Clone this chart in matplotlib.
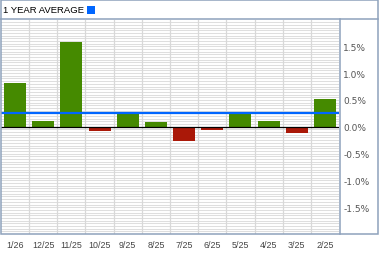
import numpy as np
import matplotlib
matplotlib.use("Agg")
import matplotlib.pyplot as plt
from matplotlib.patches import Rectangle
from matplotlib.lines import Line2D

plt.rcParams['font.family'] = ['Liberation Sans', 'DejaVu Sans']

#data (monthly % change, newest first)
months = ['1/26', '12/25', '11/25', '10/25', '9/25', '8/25', '7/25', '6/25', '5/25', '4/25', '3/25', '2/25']
values = [0.81, 0.10, 1.58, -0.07, 0.235, 0.086, -0.27, -0.06, 0.25, 0.10, -0.125, 0.515]
average = 0.265
ytick_vals = [-1.5, -1.0, -0.5, 0.0, 0.5, 1.0, 1.5]

W, H = 379, 255
fig = plt.figure(figsize=(W/100, H/100), dpi=100)

#axes box in pixels
x0, x1 = 1, 339
y_top, y_bot = 20.5, 235
ax = fig.add_axes([x0/W, (H-y_bot)/H, (x1-x0)/W, (y_bot-y_top)/H])

n = len(months)
x = np.arange(n)
cols = ['#458a00' if v >= 0 else '#aa1808' for v in values]
ax.bar(x, values, width=0.78, color=cols, zorder=3)

#fine grid
for g in np.arange(-2.0, 2.0001, 0.05):
    ax.axhline(g, color='#dedede', lw=0.75, zorder=1)
for b in np.arange(0.5, n-0.5, 1):
    ax.axvline(b, color='#d8d8d8', lw=0.9, zorder=2)

ax.axhline(0, color='black', lw=0.9, zorder=4)
ax.axhline(average, color='#0066ff', lw=1.6, zorder=5)

ax.set_xlim(-0.5, n-0.5)
ax.set_ylim(-2.0, 2.0)
ax.set_xticks(x)
ax.set_xticklabels(months, fontsize=6.4, color='#444444')
ax.set_yticks(ytick_vals)
ax.set_yticklabels(['%.1f%%' % v for v in ytick_vals], fontsize=6.5, color='#555555',
                   family='DejaVu Sans')
ax.yaxis.tick_right()
ax.tick_params(axis='both', length=0)
ax.tick_params(axis='x', pad=4)
ax.tick_params(axis='y', pad=3.2)
for s in ax.spines.values():
    s.set_visible(False)

#outer frame and separators
fc = '#8ea2bc'
fig.add_artist(Rectangle((0.5/W, (H-235)/H), 377.5/W, 234.5/H, transform=fig.transFigure,
                         fill=False, edgecolor=fc, lw=1.1))
fig.add_artist(Line2D([0, 378/W], [(H-20)/H, (H-20)/H], transform=fig.transFigure, color=fc, lw=1.1))
fig.add_artist(Line2D([339.5/W, 339.5/W], [(H-235)/H, (H-20)/H], transform=fig.transFigure, color=fc, lw=1.1))

#header
fig.text(3/W, (H-10.5)/H, '1 YEAR AVERAGE', fontsize=6.8, color='black', va='center', ha='left')
fig.add_artist(Rectangle((87/W, (H-15)/H), 8/W, 8/H, transform=fig.transFigure,
                         color='#0066ff', lw=0))

fig.savefig('out.png', dpi=100)
